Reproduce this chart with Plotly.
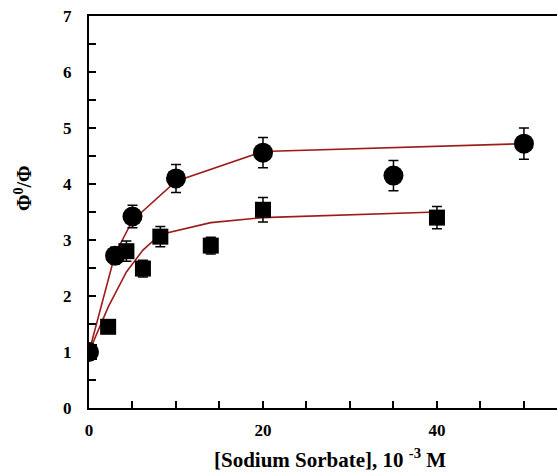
import plotly.graph_objects as go

# circles
circ_x = [0, 3, 5, 10, 20, 35, 50]
circ_y = [1.0, 2.72, 3.42, 4.1, 4.56, 4.15, 4.72]
circ_err = [0.0, 0.15, 0.2, 0.25, 0.27, 0.27, 0.28]
circ_fit_x = [0, 3, 5, 10, 20, 35, 50]
circ_fit_y = [1.0, 2.75, 3.35, 4.05, 4.58, 4.65, 4.72]

# squares
sq_x = [0, 2.2, 4.3, 6.2, 8.2, 14, 20, 40]
sq_y = [1.0, 1.45, 2.8, 2.49, 3.06, 2.9, 3.54, 3.4]
sq_err = [0.0, 0.0, 0.18, 0.15, 0.18, 0.15, 0.22, 0.2]
sq_fit_x = [0, 2.2, 4.3, 6.2, 8.2, 14, 20, 40]
sq_fit_y = [1.0, 1.8, 2.43, 2.82, 3.1, 3.31, 3.4, 3.5]

x_ticks = [0, 5, 10, 15, 20, 25, 30, 35, 40, 45, 50]
x_labels = ["0", "", "", "", "20", "", "", "", "40", "", ""]
y_ticks = [0, 0.5, 1, 1.5, 2, 2.5, 3, 3.5, 4, 4.5, 5, 5.5, 6, 6.5, 7]
y_labels = ["0", "", "1", "", "2", "", "3", "", "4", "", "5", "", "6", "", "7"]

x_title = "[Sodium Sorbate], 10 <sup>-3</sup> M"
y_title = "Φ<sup>0</sup>/Φ"

line_col = "#9e1b1b"
font = "Liberation Serif"

fig = go.Figure()
fig.add_trace(go.Scatter(x=circ_fit_x, y=circ_fit_y, mode="lines",
                         line=dict(color=line_col, width=1.6), showlegend=False))
fig.add_trace(go.Scatter(x=sq_fit_x, y=sq_fit_y, mode="lines",
                         line=dict(color=line_col, width=1.6), showlegend=False))
fig.add_trace(go.Scatter(x=circ_x, y=circ_y, mode="markers",
                         marker=dict(symbol="circle", size=20, color="black"),
                         error_y=dict(type="data", array=circ_err, color="black",
                                      thickness=1.5, width=5),
                         showlegend=False))
fig.add_trace(go.Scatter(x=sq_x, y=sq_y, mode="markers",
                         marker=dict(symbol="square", size=16, color="black"),
                         error_y=dict(type="data", array=sq_err, color="black",
                                      thickness=1.5, width=5),
                         showlegend=False))

fig.update_layout(
    width=557, height=474,
    margin=dict(l=89, r=0, t=16, b=66),
    plot_bgcolor="white", paper_bgcolor="white",
    font=dict(family=font, size=16, color="black"),
    xaxis=dict(range=[0, 53.8], tickvals=x_ticks, ticktext=x_labels,
               ticks="inside", ticklen=7, tickwidth=1.5, tickcolor="black",
               showline=True, linewidth=2, linecolor="black", mirror=True,
               showgrid=False, zeroline=False, ticklabelstandoff=6,
               tickfont=dict(family=font, size=17, color="black", weight="bold")),
    yaxis=dict(range=[0, 7], tickvals=y_ticks, ticktext=y_labels,
               ticks="inside", ticklen=7, tickwidth=1.5, tickcolor="black",
               showline=True, linewidth=2, linecolor="black", mirror=False,
               showgrid=False, zeroline=False, ticklabelstandoff=12,
               tickfont=dict(family=font, size=17, color="black", weight="bold")),
    annotations=[
        dict(text=x_title, xref="paper", yref="paper", x=0.515, y=-0.128,
             showarrow=False, xanchor="center", yanchor="middle",
             font=dict(family=font, size=21, color="black", weight="bold")),
        dict(text=y_title, xref="paper", yref="paper", x=-0.141, y=0.561,
             showarrow=False, xanchor="center", yanchor="middle", textangle=-90,
             font=dict(family=font, size=20, color="black", weight="bold")),
    ],
)

fig.write_html("out.html")
